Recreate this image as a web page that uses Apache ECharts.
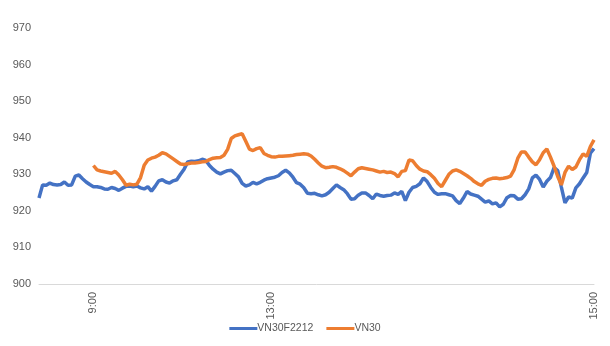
<!DOCTYPE html>
<html>
<head>
<meta charset="utf-8">
<script src="https://cdn.jsdelivr.net/npm/echarts@6/dist/echarts.min.js"></script>
<style>
  html, body { margin: 0; padding: 0; background: #ffffff; }
  #chart { width: 610px; height: 346px; }
</style>
</head>
<body>
<div id="chart"></div>
<script>
// Intraday prices, one sample per slot from the futures open to 15:00
const futures = [
  923.5, 927.1, 927.0, 927.6, 927.2, 927.1, 927.2, 927.9, 927.0, 927.1,
  929.5, 929.8, 928.8, 927.9, 927.2, 926.6, 926.6, 926.4, 926.0, 925.9,
  926.4, 926.1, 925.6, 926.2, 926.7, 926.8, 926.6, 926.8, 926.3, 926.0,
  926.6, 925.4, 926.7, 928.2, 928.5, 927.9, 927.6, 928.2, 928.5, 930.0,
  931.4, 933.4, 933.6, 933.5, 933.7, 934.1, 933.8, 932.4, 931.4, 930.6,
  930.1, 930.6, 931.0, 931.1, 930.2, 929.3, 927.5, 926.8, 927.1, 927.8,
  927.4, 927.8, 928.4, 928.8, 929.0, 929.2, 929.6, 930.5, 931.1, 930.4,
  929.2, 927.7, 927.3, 926.3, 924.8, 924.7, 924.8, 924.4, 924.1, 924.4,
  925.1, 926.1, 927.1, 926.4, 925.8, 924.7, 923.2, 923.3, 924.3, 924.9,
  924.9, 924.2, 923.3, 924.6, 924.2, 924.0, 924.2, 924.3, 924.9, 924.5,
  925.3, 922.8, 925.1, 926.4, 926.7, 927.4, 929.0, 928.0, 926.4, 925.1,
  924.5, 924.7, 924.7, 924.4, 924.1, 922.8, 922.0, 923.5, 925.3, 924.6,
  924.3, 924.0, 923.2, 922.4, 922.7, 921.9, 922.2, 921.1, 921.8, 923.6,
  924.2, 924.1, 923.2, 923.3, 924.4, 926.0, 929.0, 929.8, 928.6, 926.5,
  928.1, 929.1, 931.8, 931.0, 926.5, 922.2, 923.8, 923.5, 926.3, 927.4,
  929.0, 930.5, 935.8, 937.0
];

// Cash index starts trading at 9:00
const index30 = [
  null, null, null, null, null, null, null, null, null, null,
  null, null, null, null, null, 932.4, 931.2, 930.9, 930.7, 930.5,
  930.3, 930.8, 929.8, 928.5, 927.0, 927.3, 927.1, 927.3, 929.1, 932.5,
  933.9, 934.4, 934.7, 935.2, 935.9, 935.6, 934.9, 934.2, 933.5, 932.8,
  932.7, 932.9, 933.1, 933.1, 933.2, 933.4, 933.5, 934.0, 934.4, 934.5,
  934.6, 935.2, 936.8, 939.8, 940.5, 940.8, 941.1, 939.0, 936.9, 936.5,
  937.0, 937.3, 935.7, 935.2, 934.8, 934.7, 934.9, 934.9, 935.0, 935.1,
  935.2, 935.4, 935.5, 935.6, 935.5, 935.0, 934.1, 933.1, 932.2, 931.8,
  931.9, 932.1, 931.9, 931.5, 931.0, 930.3, 929.6, 930.6, 931.5, 931.8,
  931.6, 931.4, 931.2, 930.9, 930.6, 930.8, 930.5, 930.6, 930.2, 929.3,
  930.8, 931.0, 933.9, 933.7, 932.4, 931.4, 930.9, 930.7, 929.9, 928.9,
  927.5, 926.6, 928.3, 930.0, 930.9, 931.2, 930.8, 930.2, 929.6, 928.9,
  928.0, 927.4, 927.0, 928.1, 928.6, 928.9, 929.0, 928.8, 928.9, 929.1,
  929.5, 931.3, 934.4, 936.1, 936.1, 934.7, 933.4, 932.6, 934.0, 935.9,
  936.9, 934.7, 932.2, 929.4, 927.1, 930.5, 932.2, 931.3, 932.0, 934.0,
  935.6, 934.9, 937.6, 939.4
];

// Time labels shown on the category axis, keyed by sample slot
const timeTicks = [
  { slot: 15, text: '9:00' },
  { slot: 64, text: '13:00' },
  { slot: 153, text: '15:00' }
];

const seriesNames = ['VN30F2212', 'VN30'];
const yTicks = { min: 900, max: 970, step: 10 };

const tickMap = {};
timeTicks.forEach(t => { tickMap[t.slot] = t.text; });
const slots = futures.map((_, i) => String(i));

const FONT = '"Liberation Sans Narrow", "Liberation Sans", sans-serif';
const TEXT = '#595959';

const chart = echarts.init(document.getElementById('chart'), null, { renderer: 'canvas' });
chart.setOption({
  animation: false,
  backgroundColor: '#ffffff',
  grid: { left: 39, right: 16, top: 28, bottom: 62, containLabel: false },
  legend: {
    bottom: 7,
    left: 'center',
    itemWidth: 28,
    itemHeight: 3,
    itemGap: 13,
    icon: 'rect',
    textStyle: { color: TEXT, fontSize: 10.5, fontFamily: FONT, padding: [0, 0, 0, -5] },
    data: seriesNames
  },
  xAxis: {
    type: 'category',
    data: slots,
    boundaryGap: false,
    axisLine: { lineStyle: { color: '#d9d9d9', width: 1 } },
    axisTick: { show: false },
    splitLine: { show: false },
    axisLabel: {
      rotate: 90,
      margin: 8,
      color: TEXT,
      fontSize: 11,
      fontFamily: FONT,
      interval: (i) => tickMap[i] !== undefined,
      formatter: (v, i) => tickMap[i] || ''
    }
  },
  yAxis: {
    type: 'value',
    min: yTicks.min,
    max: yTicks.max,
    interval: yTicks.step,
    axisLine: { show: false },
    axisTick: { show: false },
    splitLine: { show: false },
    axisLabel: { color: TEXT, fontSize: 11, fontFamily: FONT, margin: 8 }
  },
  series: [
    {
      name: seriesNames[0],
      type: 'line',
      data: futures,
      symbol: 'none',
      lineStyle: { color: '#4472C4', width: 3.5 },
      itemStyle: { color: '#4472C4' }
    },
    {
      name: seriesNames[1],
      type: 'line',
      data: index30,
      symbol: 'none',
      connectNulls: false,
      lineStyle: { color: '#ED7D31', width: 3.5 },
      itemStyle: { color: '#ED7D31' }
    }
  ]
});
</script>
</body>
</html>
